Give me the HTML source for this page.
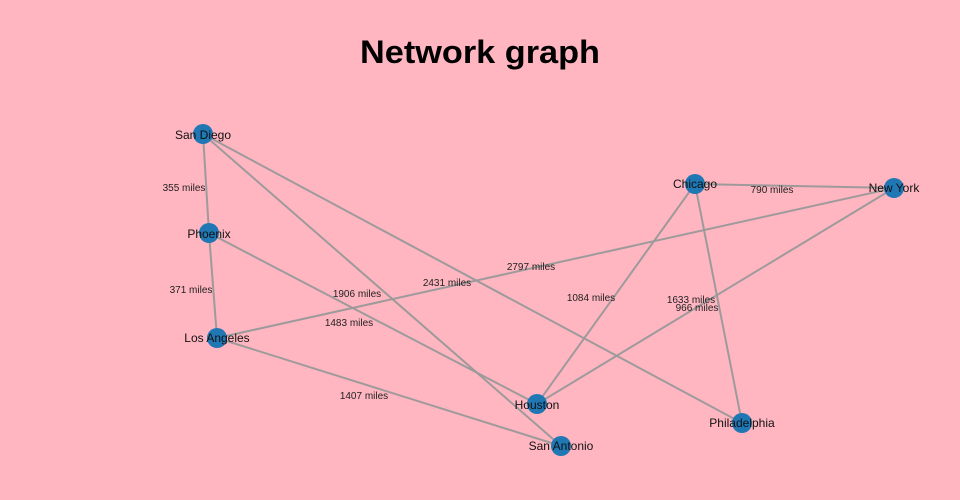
<!DOCTYPE html>
<html><head><meta charset="utf-8"><style>html,body{margin:0;padding:0;background:#ffb6c1;}svg{display:block}</style></head>
<body>
<svg width="960" height="500" viewBox="0 0 960 500" xmlns="http://www.w3.org/2000/svg" font-family="Liberation Sans, sans-serif">
<rect width="960" height="500" fill="#ffb6c1"/>
<text x="480" y="63" text-anchor="middle" font-size="32" font-weight="bold" fill="#000" textLength="240" lengthAdjust="spacingAndGlyphs">Network graph</text>
<g stroke="#999" stroke-width="2" stroke-opacity="0.95">
<line x1="203" y1="134" x2="209" y2="233"/>
<line x1="209" y1="233" x2="217" y2="338"/>
<line x1="695" y1="184" x2="894" y2="188"/>
<line x1="217" y1="338" x2="894" y2="188"/>
<line x1="203" y1="134" x2="742" y2="423"/>
<line x1="203" y1="134" x2="561" y2="446"/>
<line x1="209" y1="233" x2="537" y2="404"/>
<line x1="217" y1="338" x2="561" y2="446"/>
<line x1="695" y1="184" x2="537" y2="404"/>
<line x1="894" y1="188" x2="537" y2="404"/>
<line x1="695" y1="184" x2="742" y2="423"/>
</g>
<g fill="#1f77b4">
<circle cx="203" cy="134" r="10"/><circle cx="209" cy="233" r="10"/><circle cx="217" cy="338" r="10"/>
<circle cx="537" cy="404" r="10"/><circle cx="561" cy="446" r="10"/><circle cx="742" cy="423" r="10"/>
<circle cx="695" cy="184" r="10"/><circle cx="894" cy="188" r="10"/>
</g>
<g font-size="10" fill="#222" text-anchor="middle">
<text x="184" y="191">355 miles</text>
<text x="191" y="293">371 miles</text>
<text x="772" y="193">790 miles</text>
<text x="531" y="270">2797 miles</text>
<text x="447" y="286">2431 miles</text>
<text x="357" y="297">1906 miles</text>
<text x="349" y="326">1483 miles</text>
<text x="364" y="399">1407 miles</text>
<text x="591" y="301">1084 miles</text>
<text x="691" y="303">1633 miles</text>
<text x="697" y="311">966 miles</text>
</g>
<g font-size="12" fill="#111" text-anchor="middle">
<text x="203" y="139">San Diego</text>
<text x="209" y="238">Phoenix</text>
<text x="217" y="342">Los Angeles</text>
<text x="537" y="409">Houston</text>
<text x="561" y="450">San Antonio</text>
<text x="742" y="427">Philadelphia</text>
<text x="695" y="188">Chicago</text>
<text x="894" y="192">New York</text>
</g>
</svg>
</body></html>
